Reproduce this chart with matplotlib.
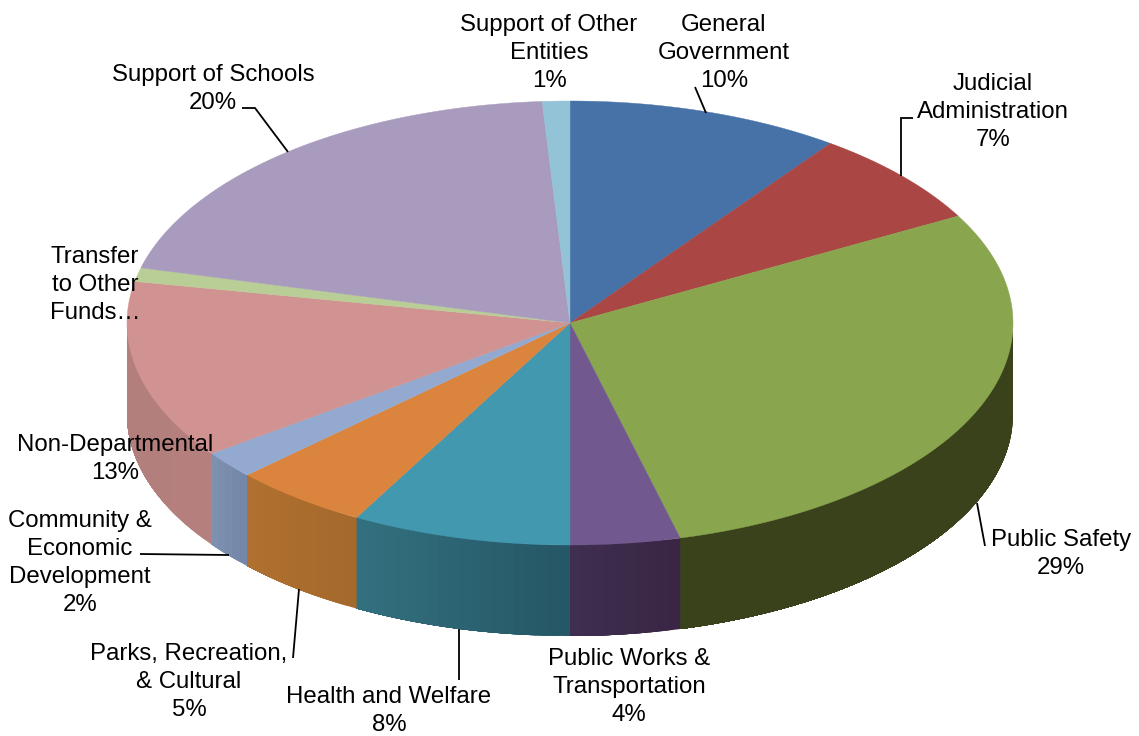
import numpy as np
import matplotlib
matplotlib.use('Agg')
from matplotlib import pyplot as plt
from matplotlib.patches import Polygon
from matplotlib.colors import to_rgb

plt.rcParams['font.family'] = ['Liberation Sans', 'DejaVu Sans']

# budget shares, clockwise from twelve o'clock
categories = ['General\nGovernment', 'Judicial\nAdministration', 'Public Safety',
              'Public Works &\nTransportation', 'Health and Welfare',
              'Parks, Recreation,\n& Cultural', 'Community &\nEconomic\nDevelopment',
              'Non-Departmental', 'Transfer\nto Other\nFunds…', 'Support of Schools',
              'Support of Other\nEntities']
shares = [10, 7, 29, 4, 8, 5, 2, 13, 1, 20, 1]
# the transfer label is cut off before its percentage
show_pct = [True, True, True, True, True, True, True, True, False, True, True]

top_colors = ['#4672A8', '#AA4644', '#89A54E', '#71588F', '#4198AF', '#DB843D',
              '#93A9CF', '#D19392', '#B9CD96', '#A99BBD', '#92C3D6']
# side wall colours at the left and right end of each slice
side_left = ['#30507A', '#7A3230', '#3A421C', '#3E2E50', '#33707F', '#B0702F',
             '#7D90B0', '#B27F7D', '#9AAE80', '#8F83A0', '#7CA6B6']
side_right = ['#30507A', '#7A3230', '#3A421C', '#3A2644', '#265766', '#A5692C',
              '#7587A8', '#B47F7D', '#9AAE80', '#8F83A0', '#7CA6B6']

cx, cy = 570, 323
rx, ry = 443, 222
depth = 91


def rim(t):
    # t in radians, clockwise from the top of the ellipse
    return cx + rx * np.sin(t), cy - ry * np.cos(t)


fig = plt.figure(figsize=(11.39, 7.36), dpi=100)
ax = fig.add_axes([0, 0, 1, 1])
ax.set_xlim(0, 1139)
ax.set_ylim(736, 0)
ax.axis('off')

edges = np.cumsum([0] + shares) / sum(shares) * 2 * np.pi

# front wall, only the part of each slice facing the viewer.
# strips overlap so no seams show
for i in range(len(shares)):
    a = max(edges[i], np.pi / 2)
    b = min(edges[i + 1], 3 * np.pi / 2)
    if b <= a:
        continue
    n = max(int((b - a) * 40), 2)
    ts = np.linspace(a, b, n + 1)
    c0 = np.array(to_rgb(side_left[i]))
    c1 = np.array(to_rgb(side_right[i]))
    for k in range(n):
        # strip k spans from its own start to the far end of the slice
        tt = np.linspace(ts[k], b, 60)
        x, y = rim(tt)
        pts = np.r_[np.c_[x, y], np.c_[x[::-1], y[::-1] + depth]]
        frac = 1 - k / max(n - 1, 1)
        col = c0 + (c1 - c0) * frac
        ax.add_patch(Polygon(pts, closed=True, facecolor=col, edgecolor='none'))

# top face
for i in range(len(shares)):
    ts = np.linspace(edges[i], edges[i + 1], 200)
    x, y = rim(ts)
    pts = np.r_[[[cx, cy]], np.c_[x, y]]
    ax.add_patch(Polygon(pts, closed=True, facecolor=top_colors[i],
                         edgecolor=top_colors[i], lw=0.3))

label_xy = [(724, 53), (993, 112), (1061, 554), (629, 687), (389, 711), (189, 682),
            (80, 563), (115, 459), (95, 285), (213, 89), (549, 53)]

for name, share, pct, (lx, ly) in zip(categories, shares, show_pct, label_xy):
    text = f'{name}\n{share}%' if pct else name
    ax.text(lx, ly, text, ha='center', va='center', fontsize=17.3,
            linespacing=1.34, color='black')

leaders = [
    [(242, 108), (255, 108), (288, 152)],
    [(695, 87), (706, 113)],
    [(913, 118), (901, 118), (901, 176)],
    [(977, 503), (985, 546)],
    [(459, 629), (459, 680)],
    [(299, 589), (293, 658)],
    [(140, 554), (229, 555)],
]
for line in leaders:
    lx, ly = zip(*line)
    ax.plot(lx, ly, color='black', lw=1.3, solid_capstyle='butt', solid_joinstyle='miter')

fig.savefig('out.png', dpi=100, facecolor='white')
